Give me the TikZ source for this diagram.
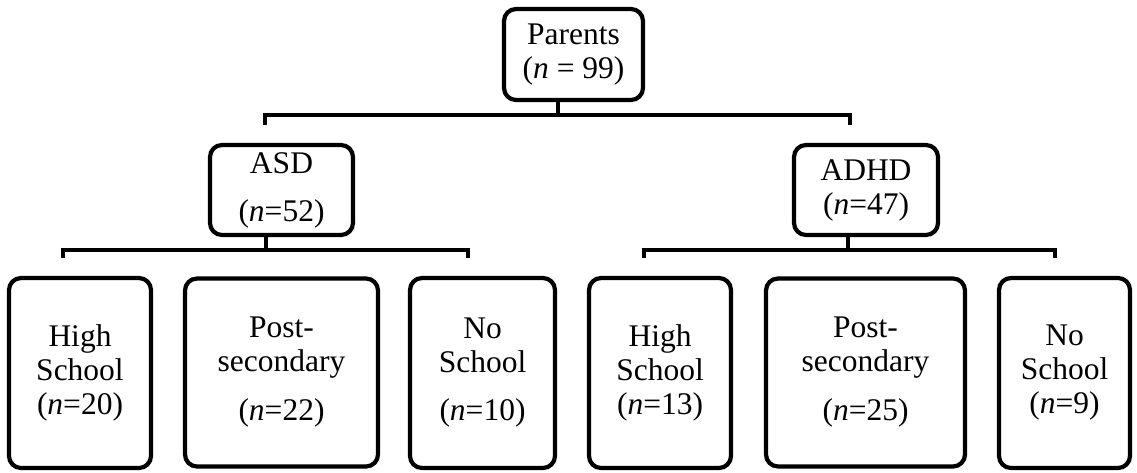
\documentclass[tikz,border=0pt]{standalone}
\usepackage{fontspec}
\setmainfont{Liberation Serif}
\begin{document}
\begin{tikzpicture}[x=1pt,y=-1pt,
  box/.style={draw=black, line width=4.2pt, rounded corners=12pt, align=center,
    inner sep=0pt, fill=white, font=\fontsize{31.5}{34}\selectfont},
  conn/.style={draw=black, line width=3.6pt}]
\fill[white] (0,0) rectangle (1137,472);
\useasboundingbox (0,0) rectangle (1137,472);
% boxes
\node[box, minimum width=139pt, minimum height=91pt] (par) at (573.5,54.5) {Parents\\(\textit{n} = 99)};
\node[box, minimum width=143pt, minimum height=90pt] (asd) at (281.5,190) {ASD\\[14pt](\textit{n}=52)};
\node[box, minimum width=144pt, minimum height=90pt] (adhd) at (866,190) {ADHD\\(\textit{n}=47)};
\node[box, minimum width=142pt, minimum height=190pt] (b1) at (80,373) {High\\School\\(\textit{n}=20)};
\node[box, minimum width=193pt, minimum height=188pt] (b2) at (281.5,372.5) {Post-\\secondary\\[15pt](\textit{n}=22)};
\node[box, minimum width=145pt, minimum height=190pt] (b3) at (482.5,373) {No\\School\\[14pt](\textit{n}=10)};
\node[box, minimum width=142pt, minimum height=190pt] (b4) at (660,373) {High\\School\\(\textit{n}=13)};
\node[box, minimum width=199pt, minimum height=188pt] (b5) at (865.5,372.5) {Post-\\secondary\\[15pt](\textit{n}=25)};
\node[box, minimum width=131pt, minimum height=190pt] (b6) at (1064.5,373) {No\\School\\(\textit{n}=9)};
% junction coordinates
\coordinate (t0) at (558,115);
\coordinate (tl) at (265,125);
\coordinate (tr) at (850,125);
\coordinate (a0) at (266,250);
\coordinate (al) at (63,258);
\coordinate (ar) at (468,258);
\coordinate (d0) at (848,250);
\coordinate (dl) at (644,258);
\coordinate (dr) at (1055,258);
% connectors
\draw[conn] (par.south -| t0) -- (t0);
\draw[conn] (tl) -- (tl |- t0) -- (tr |- t0) -- (tr);
\draw[conn] (asd.south -| a0) -- (a0);
\draw[conn] (al) -- (al |- a0) -- (ar |- a0) -- (ar);
\draw[conn] (adhd.south -| d0) -- (d0);
\draw[conn] (dl) -- (dl |- d0) -- (dr |- d0) -- (dr);
\end{tikzpicture}
\end{document}
